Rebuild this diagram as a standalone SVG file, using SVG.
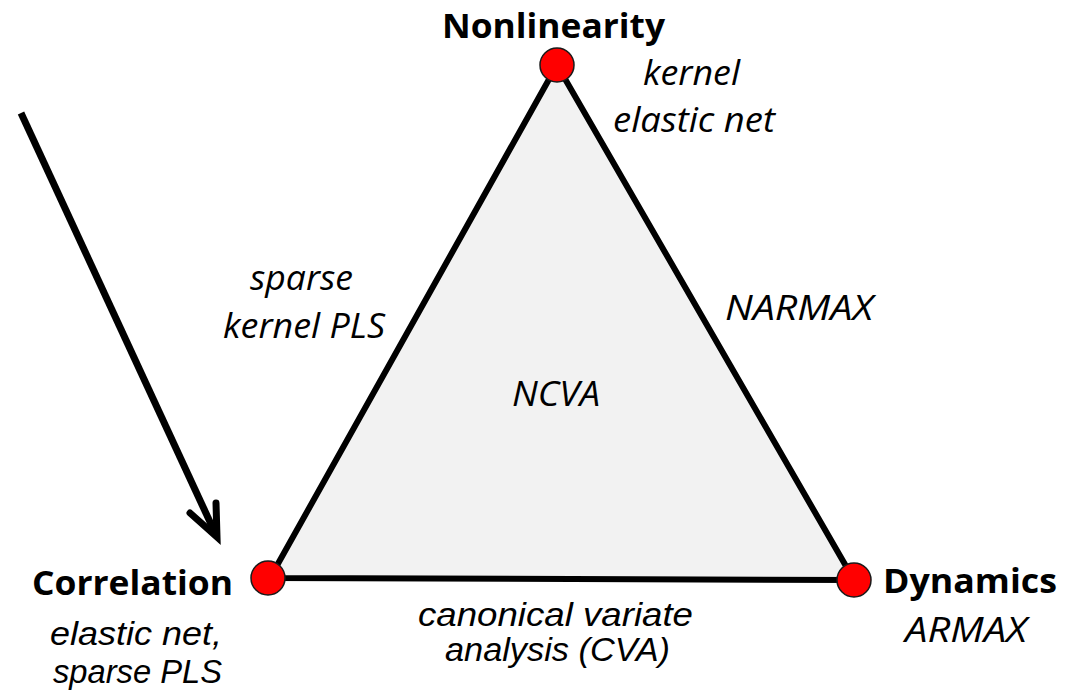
<svg xmlns="http://www.w3.org/2000/svg" width="1071" height="699" viewBox="0 0 1071 699">
<style>
text{font-family:"Open Sans","Liberation Sans",sans-serif;font-size:34px;fill:#000}
.b{font-weight:bold}
.i{font-style:italic}
.t{font-family:"Liberation Sans",Arial,sans-serif}
.v{fill:#ff0000;stroke:#1a1a1a;stroke-width:1.5}
</style>
<rect width="1071" height="699" fill="#ffffff"/>
<g id="connectors">
<polygon points="557,65 270,578 854,580" fill="#f2f2f2" stroke="#000" stroke-width="6" stroke-linejoin="round"/>
<line x1="21" y1="113" x2="215.3" y2="533.4" stroke="#000" stroke-width="7"/>
<polyline points="190,513 217,537 216,503" fill="none" stroke="#000" stroke-width="7" stroke-linejoin="miter" stroke-linecap="round"/>
</g>
<g id="node-nonlinearity">
<circle class="v" cx="557" cy="65" r="17"/>
<text class="b" x="442" y="38" textLength="223" lengthAdjust="spacingAndGlyphs">Nonlinearity</text>
<text class="i" x="643" y="85" textLength="97" lengthAdjust="spacingAndGlyphs">kernel</text>
<text class="i" x="613" y="132" textLength="162" lengthAdjust="spacingAndGlyphs">elastic net</text>
</g>
<g id="node-correlation">
<circle class="v" cx="268" cy="578" r="17"/>
<text class="b" x="32" y="595" textLength="201" lengthAdjust="spacingAndGlyphs">Correlation</text>
<text class="i t" x="50" y="645" font-size="33" textLength="172" lengthAdjust="spacingAndGlyphs">elastic net,</text>
<text class="i t" x="53" y="683" font-size="33" textLength="169" lengthAdjust="spacingAndGlyphs">sparse PLS</text>
</g>
<g id="node-dynamics">
<circle class="v" cx="854" cy="580" r="17"/>
<text class="b" x="883" y="593" textLength="174" lengthAdjust="spacingAndGlyphs">Dynamics</text>
<text class="i" x="905" y="642" textLength="122" lengthAdjust="spacingAndGlyphs">ARMAX</text>
</g>
<g id="edge-labels">
<text class="i" x="250" y="290" textLength="103" lengthAdjust="spacingAndGlyphs">sparse</text>
<text class="i" x="223" y="338" textLength="162" lengthAdjust="spacingAndGlyphs">kernel PLS</text>
<text class="i" x="725" y="320" textLength="148" lengthAdjust="spacingAndGlyphs">NARMAX</text>
<text class="i" x="512" y="406" textLength="88" lengthAdjust="spacingAndGlyphs">NCVA</text>
<text class="i t" x="418" y="626" font-size="31" textLength="275" lengthAdjust="spacingAndGlyphs">canonical variate</text>
<text class="i t" x="445" y="661" font-size="31" textLength="225" lengthAdjust="spacingAndGlyphs">analysis (CVA)</text>
</g>
</svg>
